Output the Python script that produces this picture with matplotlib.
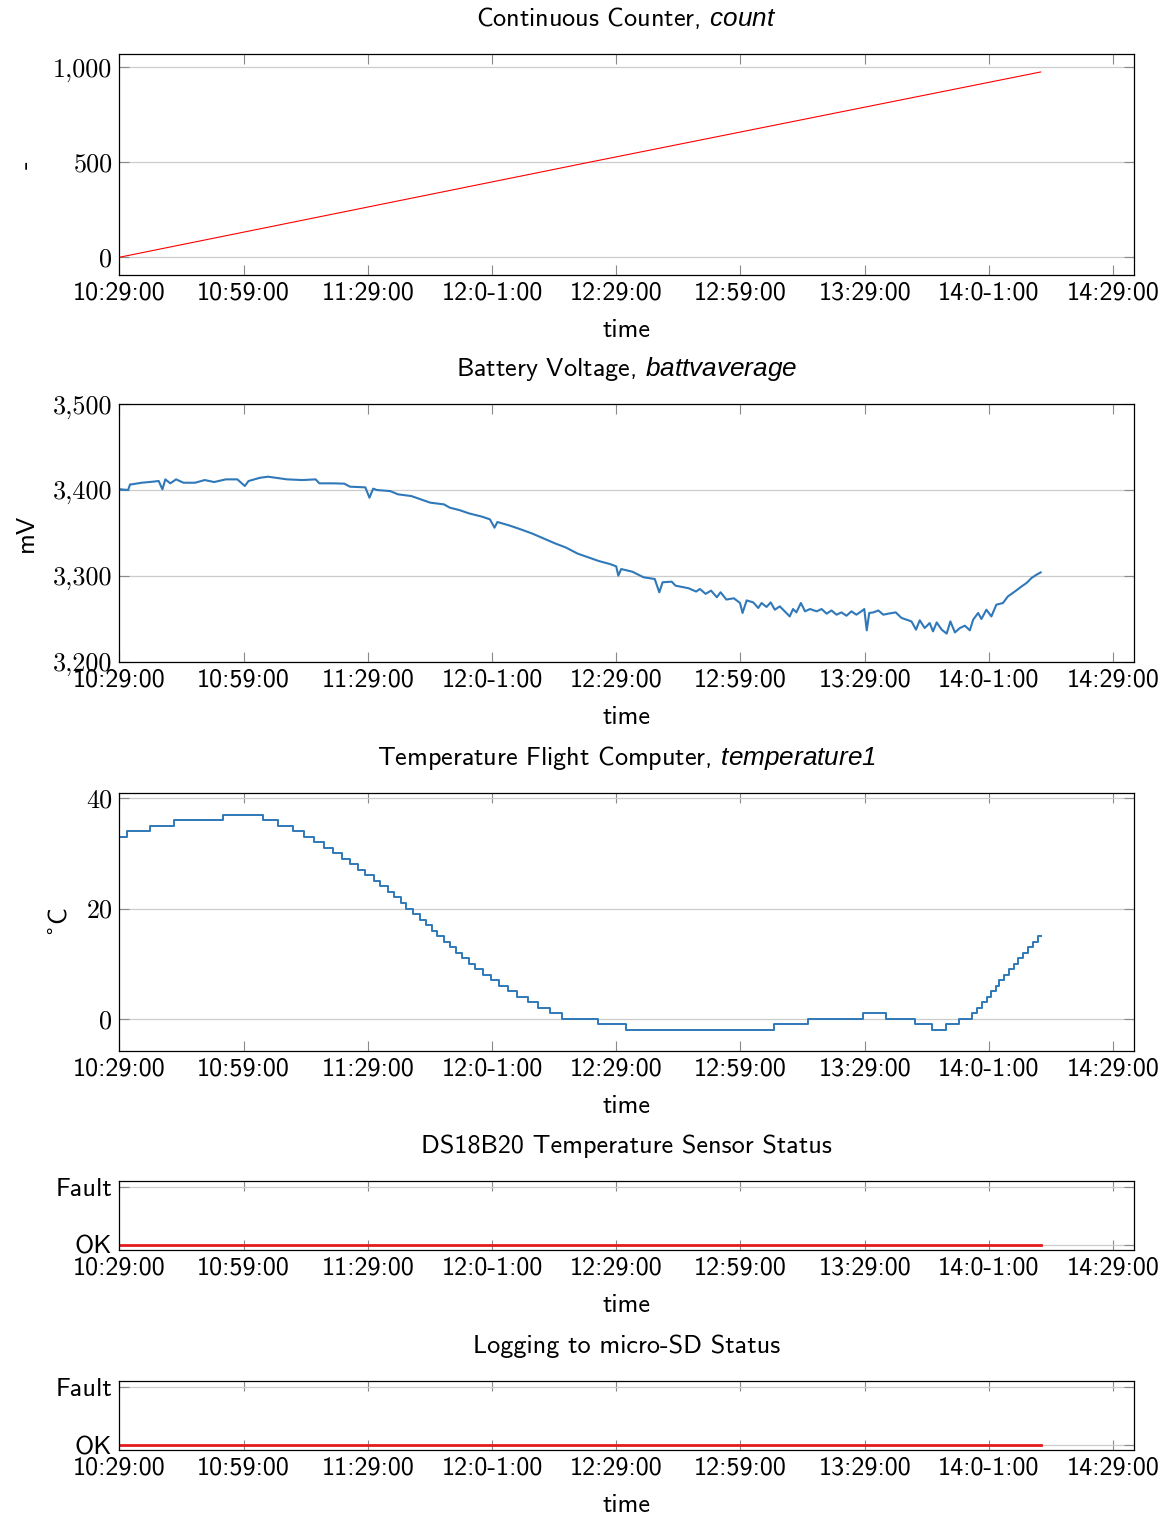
import matplotlib
matplotlib.use("Agg")
from matplotlib import pyplot as plt

# x values are minutes after 10:29:00
time_ticks = [0, 30, 60, 90, 120, 150, 180, 210, 240]
time_labels = ["10:29:00", "10:59:00", "11:29:00", "12:0-1:00", "12:29:00",
               "12:59:00", "13:29:00", "14:0-1:00", "14:29:00"]

count_time = [0, 113.5, 222.5]
count_value = [0, 500, 975]

batt_time = [0, 2.1, 2.6, 3.0, 5.4, 8.1, 9.5, 10.4, 11.1, 12.3,
             13.7, 15.5, 18.3, 20.6, 22.9, 25.7, 28.5, 30.3, 31.2, 34.0,
             35.9, 37.7, 40.5, 44.2, 47.4, 48.3, 51.6, 54.3, 55.7, 59.4,
             60.4, 61.3, 62.2, 65.4, 67.3, 70.5, 72.8, 75.1, 78.4, 79.8,
             82.1, 84.4, 87.6, 89.5, 90.6, 91.3, 94.1, 96.9, 99.6, 102.4,
             105.2, 107.9, 110.7, 113.5, 115.8, 118.5, 120.0, 120.5, 121.2, 123.9,
             126.6, 129.3, 130.4, 131.2, 133.4, 134.3, 137.5, 139.3, 140.2, 141.6,
             142.9, 144.3, 145.2, 146.6, 148.4,
             149.9, 150.5, 151.5, 153.1, 154.3, 155.1, 156.3, 157.3, 158.3, 159.5,
             160.7, 161.9, 162.7, 163.5, 164.6, 165.6, 166.8, 168.4, 169.6, 170.8,
             172.0, 173.2, 174.4, 175.6, 176.8, 178.0, 179.2, 179.9, 180.5, 181.1,
             182.1, 183.3, 184.5, 185.7, 187.5, 188.9, 190.1, 191.3, 192.4, 193.3,
             194.5, 195.7, 196.5, 197.4, 198.6, 199.8, 200.7, 201.8, 203.0, 204.2,
             205.4, 206.2, 207.4, 208.2, 209.4, 210.6, 211.8, 213.4, 214.6, 216.3,
             217.9, 219.1, 220.3, 221.5, 222.5]
batt_mv = [3401, 3400, 3406.6, 3406.6, 3408.5, 3409.7, 3410.5, 3400.8, 3412.4, 3407.8,
           3412.4, 3408.5, 3408.5, 3411.6, 3409.3, 3412.4, 3412.4, 3404.7, 3410.5, 3414.3,
           3415.5, 3414.3, 3412.4, 3411.6, 3412.4, 3407.8, 3407.8, 3407.4, 3403.9, 3403.1,
           3391.1, 3401.6, 3400, 3398.8, 3395, 3393, 3389.1, 3385.3, 3383.3, 3379.5,
           3376.7, 3372.9, 3369, 3365.9, 3356.2, 3362.8, 3358.9, 3354.3, 3349.6, 3343.8,
           3338, 3333, 3326, 3321.3, 3317.4, 3313.9, 3311.2, 3300.4, 3308.1, 3305,
           3298.5, 3296.5, 3281, 3292.7, 3293.4, 3288.8, 3285.7, 3281.9, 3284.9, 3279.2,
           3283, 3275.3, 3281.1, 3272.6, 3274.1,
           3268.6, 3257, 3271.6, 3269.3, 3262.8, 3268.6, 3264, 3269.3, 3260.8, 3264.7,
           3258.9, 3253, 3261.6, 3257.7, 3268.6, 3258.9, 3261.6, 3258.9, 3261.6, 3256.2,
           3259.9, 3255, 3257.7, 3253.8, 3258.9, 3255, 3258.9, 3261.6, 3236.8, 3257,
           3257.7, 3259.9, 3255, 3256.2, 3257.7, 3251.2, 3249.2, 3247.2, 3237.6, 3248.5,
           3239.5, 3245.3, 3235.6, 3246.0, 3237.6, 3233, 3247.2, 3234.4, 3239.5, 3242.2,
           3236.8, 3249.2, 3257, 3250, 3260.8, 3253, 3266.6, 3268.6, 3276.3, 3282.1,
           3287.9, 3291.9, 3297.7, 3301.5, 3304.2]

temp_time = [0, 1.9, 7.4, 13.3, 25.0, 34.6, 38.4, 41.9, 44.7, 47.0,
             49.5, 51.5, 53.7, 55.6, 57.7, 59.4, 61.4, 63.0, 64.8, 66.4,
             67.9, 69.3, 70.8, 72.5, 74.0, 75.4, 76.8, 78.4, 79.8, 81.3,
             82.8, 84.4, 85.9, 87.8, 89.7, 91.8, 93.8, 96.1, 98.7, 101.0,
             103.9, 107.0, 115.6, 122.3, 158.0, 166.4, 179.6, 185.1, 192.1, 196.3,
             199.6, 202.8, 205.9, 207.1, 208.4, 209.5, 210.5, 211.6, 212.5, 213.7,
             214.9, 216.0, 217.1, 218.2, 219.4, 220.7, 221.8, 222.5]
temp_value = [33, 34, 35, 36, 37, 36, 35, 34, 33, 32,
              31, 30, 29, 28, 27, 26, 25, 24, 23, 22,
              21, 20, 19, 18, 17, 16, 15, 14, 13, 12,
              11, 10, 9, 8, 7, 6, 5, 4, 3, 2,
              1, 0, -1, -2, -1, 0, 1, 0, -1, -2,
              -1, 0, 1, 2, 3, 4, 5, 6, 7, 8,
              9, 10, 11, 12, 13, 14, 15, 15]

status_time = [0, 222.5]
sensor_status = [0, 0]  # 0 = OK, 1 = Fault
logging_status = [0, 0]

plt.rcParams['font.family'] = ['cmss10', 'DejaVu Sans']
plt.rcParams['font.size'] = 18.8
plt.rcParams['mathtext.fontset'] = 'custom'
plt.rcParams['mathtext.sf'] = 'Liberation Sans:italic'
plt.rcParams['mathtext.rm'] = 'DejaVu Sans'
plt.rcParams['axes.formatter.use_mathtext'] = True

BLUE = '#2f78b9'
RED = '#e41a1c'


def setup_axes(ax, title, ylabel, yticks, ylabels, ylim, serif=True):
    ax.set_xlim(0, 245)
    ax.set_ylim(*ylim)
    ax.set_xticks(time_ticks)
    ax.set_xticklabels(time_labels)
    ax.set_yticks(yticks)
    if serif:
        ax.set_yticklabels(ylabels, fontfamily='cmr10')
    else:
        ax.set_yticklabels(ylabels)
    ax.tick_params(direction='in', top=True, right=True, length=7, width=0.8,
                   color='#8a8a8a', pad=5)
    ax.grid(axis='y', color='#cccccc', linewidth=0.9)
    ax.set_axisbelow(True)
    for s in ax.spines.values():
        s.set_linewidth(0.9)
    ax.set_title(title, pad=20, fontsize=18.8)
    ax.set_xlabel('time', labelpad=10)
    if ylabel:
        ax.set_ylabel(ylabel, labelpad=11)


fig = plt.figure(figsize=(11.69, 15.19), dpi=100)
left, width = 0.1021, 0.8678

ax1 = fig.add_axes([left, 0.8190, width, 0.1455])
ax1.plot(count_time, count_value, color='red', linewidth=0.8)
setup_axes(ax1, 'Continuous Counter, $\\mathsf{count}$', '-',
           [0, 500, 1000], ['0', '500', '1,000'], (-93, 1070))

ax2 = fig.add_axes([left, 0.5642, width, 0.1698])
ax2.plot(batt_time, batt_mv, color=BLUE, linewidth=1.5)
setup_axes(ax2, 'Battery Voltage, $\\mathsf{battvaverage}$', 'mV',
           [3200, 3300, 3400, 3500], ['3,200', '3,300', '3,400', '3,500'], (3200, 3500))

ax3 = fig.add_axes([left, 0.3081, width, 0.1698])
ax3.step(temp_time, temp_value, where='post', color=BLUE, linewidth=1.4)
setup_axes(ax3, 'Temperature Flight Computer, $\\mathsf{temperature1}$', '$^{\\circ}$C',
           [0, 20, 40], ['0', '20', '40'], (-5.8, 40.9))

ax4 = fig.add_axes([left, 0.1771, width, 0.0454])
ax4.plot(status_time, sensor_status, color=RED, linewidth=2.0)
setup_axes(ax4, 'DS18B20 Temperature Sensor Status', None,
           [0, 1], ['OK', 'Fault'], (-0.086, 1.097), serif=False)

ax5 = fig.add_axes([left, 0.0454, width, 0.0454])
ax5.plot(status_time, logging_status, color=RED, linewidth=2.0)
setup_axes(ax5, 'Logging to micro-SD Status', None,
           [0, 1], ['OK', 'Fault'], (-0.086, 1.097), serif=False)

fig.savefig('out.png', dpi=100)
